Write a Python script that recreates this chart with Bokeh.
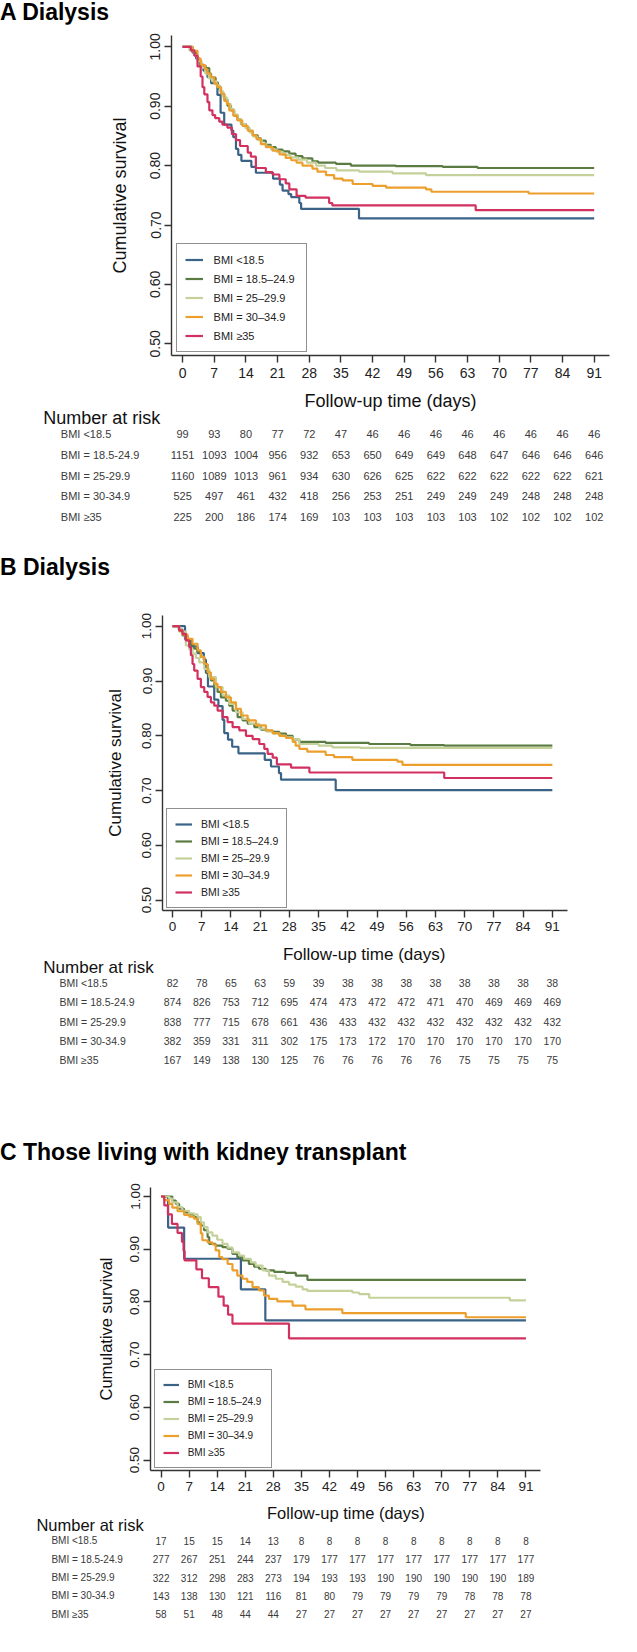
from bokeh.plotting import figure
from bokeh.models import (Range1d, FixedTicker, PrintfTickFormatter, Legend, LegendItem,
                          Label, ColumnDataSource, Div)
from bokeh.layouts import column
from bokeh.core.properties import value
from bokeh.embed import file_html
from bokeh.resources import INLINE

FONT = "Liberation Sans"
DAYS = [0, 7, 14, 21, 28, 35, 42, 49, 56, 63, 70, 77, 84, 91]
SURV_TICKS = [0.5, 0.6, 0.7, 0.8, 0.9, 1.0]
LEGEND_LABELS = ["BMI <18.5", "BMI = 18.5–24.9", "BMI = 25–29.9", "BMI = 30–34.9", "BMI ≥35"]
TABLE_LABELS = ["BMI <18.5", "BMI = 18.5-24.9", "BMI = 25-29.9", "BMI = 30-34.9", "BMI ≥35"]
COLORS = ["#3B6387", "#5A7B42", "#C5D19A", "#EC9F2C", "#D2315F"]
PANEL_TITLES = ["A Dialysis", "B Dialysis", "C Those living with kidney transplant"]
X_TITLE = "Follow-up time (days)"
Y_TITLE = "Cumulative survival"
RISK_TITLE = "Number at risk"

# ---------------- Panel A: Dialysis ----------------
A_T_LT185 = [0, 2.2, 3.0, 3.8, 4.6, 5.5, 6.3, 7.7, 8.4, 9.2, 10.8, 11.2, 11.8, 12.3, 13.0, 15.2, 16.2, 20.0, 21.5, 22.1, 23.4, 24.0, 25.8, 26.2, 39.0, 91]
A_S_LT185 = [1.0, .990, .980, .970, .960, .949, .939, .919, .889, .869, .859, .848, .828, .818, .808, .798, .788, .778, .768, .758, .752, .747, .737, .727, .711, .711]
A_T_185 = [0, 2.0, 2.8, 3.3, 4.0, 5.1, 5.9, 6.3, 7.3, 7.8, 8.5, 9.2, 9.9, 10.7, 11.4, 12.1, 12.9, 14.0, 14.7, 15.5, 16.6, 17.3, 18.4, 19.5, 20.6, 22.1, 23.6, 25.0, 26.5, 28.7, 30.0, 33.9, 37.2, 47.1, 57.5, 65.2, 91]
A_S_185 = [1.0, .993, .985, .977, .968, .964, .955, .948, .940, .930, .921, .912, .901, .893, .884, .878, .870, .864, .858, .851, .846, .842, .835, .831, .827, .824, .820, .816, .812, .807, .805, .803, .800, .799, .798, .796, .796]
A_T_25 = [0, 1.5, 2.5, 3.3, 4.2, 5.0, 5.8, 6.5, 7.5, 8.3, 9.0, 9.8, 10.6, 11.4, 12.2, 13.0, 13.9, 14.8, 15.6, 16.5, 17.5, 18.5, 19.6, 20.8, 22.2, 23.8, 25.5, 27.5, 29.5, 31.5, 34.0, 39.0, 46.4, 53.8, 91]
A_S_25 = [1.0, .994, .986, .976, .965, .955, .947, .942, .935, .925, .915, .904, .895, .886, .878, .870, .863, .856, .849, .843, .837, .832, .827, .823, .818, .814, .810, .805, .800, .796, .792, .790, .787, .784, .784]
A_T_30 = [0, 2.2, 3.3, 4.0, 5.0, 5.5, 6.2, 7.0, 7.7, 8.5, 9.2, 9.8, 10.3, 11.2, 12.1, 13.2, 14.4, 15.5, 16.3, 17.3, 18.4, 19.9, 21.4, 22.8, 24.0, 25.2, 26.5, 28.7, 29.8, 31.7, 33.5, 35.4, 37.6, 42.0, 45.0, 53.8, 55.0, 76.5, 91]
A_S_30 = [1.0, .993, .980, .969, .962, .955, .949, .938, .932, .921, .909, .904, .893, .884, .876, .867, .859, .851, .845, .836, .831, .825, .819, .813, .809, .805, .800, .795, .790, .784, .778, .775, .769, .766, .763, .760, .756, .753, .753]
A_T_35 = [0, 1.8, 2.6, 3.3, 4.0, 4.4, 4.8, 5.5, 5.9, 6.6, 7.2, 8.1, 8.8, 9.9, 10.9, 11.8, 12.7, 14.4, 15.1, 16.2, 18.4, 19.9, 21.4, 22.8, 23.6, 25.2, 27.2, 32.4, 33.1, 64.8, 91]
A_S_35 = [1.0, .994, .985, .967, .950, .932, .920, .907, .893, .885, .880, .874, .869, .864, .853, .843, .833, .822, .815, .796, .789, .785, .777, .770, .760, .749, .746, .737, .733, .725, .725]
A_RISK_LT185 = [99, 93, 80, 77, 72, 47, 46, 46, 46, 46, 46, 46, 46, 46]
A_RISK_185 = [1151, 1093, 1004, 956, 932, 653, 650, 649, 649, 648, 647, 646, 646, 646]
A_RISK_25 = [1160, 1089, 1013, 961, 934, 630, 626, 625, 622, 622, 622, 622, 622, 621]
A_RISK_30 = [525, 497, 461, 432, 418, 256, 253, 251, 249, 249, 249, 248, 248, 248]
A_RISK_35 = [225, 200, 186, 174, 169, 103, 103, 103, 103, 103, 102, 102, 102, 102]

# ---------------- Panel B: Dialysis ----------------
B_T_LT185 = [0, 3.0, 4.6, 6.0, 7.5, 8.0, 8.5, 10.0, 11.0, 12.0, 12.4, 13.3, 14.3, 15.8, 22.1, 23.6, 25.5, 26.0, 39.1, 91]
B_S_LT185 = [1.0, .976, .963, .951, .939, .915, .890, .866, .854, .829, .805, .793, .780, .768, .756, .744, .732, .720, .701, .701]
B_T_185 = [0, 1.5, 2.4, 3.6, 4.4, 5.2, 6.0, 6.8, 7.6, 8.4, 9.2, 10.0, 10.8, 11.6, 12.8, 13.6, 14.4, 15.6, 16.8, 18.0, 19.6, 21.2, 22.5, 24.0, 25.6, 27.2, 28.8, 30.4, 36.7, 47.1, 57.0, 65.1, 91]
B_S_185 = [1.0, .994, .983, .974, .965, .959, .953, .944, .930, .913, .901, .889, .880, .870, .864, .855, .846, .834, .828, .822, .816, .811, .809, .807, .804, .800, .793, .789, .787, .785, .783, .782, .782]
B_T_25 = [0, 1.6, 3.2, 4.0, 4.8, 5.6, 6.4, 7.6, 8.8, 10.4, 12.0, 13.6, 15.2, 16.8, 18.4, 20.8, 22.4, 24.0, 25.6, 27.2, 28.8, 30.4, 35.0, 38.3, 45.0, 91]
B_S_25 = [1.0, .990, .965, .958, .950, .942, .934, .922, .907, .889, .874, .858, .843, .831, .822, .813, .808, .804, .800, .797, .793, .785, .782, .779, .778, .778]
B_T_30 = [0, 1.6, 2.4, 3.6, 4.8, 6.0, 6.8, 7.6, 8.4, 9.2, 10.0, 10.8, 11.6, 12.8, 14.0, 15.2, 16.4, 18.0, 20.0, 22.4, 24.0, 25.6, 27.2, 28.8, 29.5, 30.4, 32.3, 36.7, 38.7, 43.1, 53.9, 55.1, 91]
B_S_30 = [1.0, .992, .985, .977, .968, .956, .944, .931, .916, .904, .895, .889, .880, .870, .861, .849, .837, .828, .819, .810, .805, .800, .796, .789, .782, .776, .771, .765, .761, .756, .753, .747, .747]
B_T_35 = [0, 1.6, 2.4, 3.2, 4.0, 4.4, 4.8, 5.2, 6.0, 6.8, 7.6, 8.4, 9.2, 10.0, 10.8, 12.0, 13.2, 14.4, 16.0, 17.6, 19.2, 20.8, 22.0, 22.8, 24.0, 25.0, 28.4, 32.8, 65.1, 91]
B_S_35 = [1.0, .992, .986, .974, .962, .947, .931, .919, .904, .889, .880, .871, .861, .855, .846, .834, .825, .816, .810, .800, .794, .785, .776, .767, .760, .748, .742, .733, .723, .723]
B_RISK_LT185 = [82, 78, 65, 63, 59, 39, 38, 38, 38, 38, 38, 38, 38, 38]
B_RISK_185 = [874, 826, 753, 712, 695, 474, 473, 472, 472, 471, 470, 469, 469, 469]
B_RISK_25 = [838, 777, 715, 678, 661, 436, 433, 432, 432, 432, 432, 432, 432, 432]
B_RISK_30 = [382, 359, 331, 311, 302, 175, 173, 172, 170, 170, 170, 170, 170, 170]
B_RISK_35 = [167, 149, 138, 130, 125, 76, 76, 76, 76, 76, 75, 75, 75, 75]

# ---------------- Panel C: kidney transplant ----------------
C_T_LT185 = [0, 1.75, 5.75, 19.9, 26.0, 91]
C_S_LT185 = [1.0, .941, .882, .824, .765, .765]
C_T_185 = [0, 2.8, 3.7, 4.5, 5.7, 7.0, 8.2, 9.1, 9.9, 10.7, 11.6, 12.0, 13.6, 15.3, 16.6, 17.8, 19.0, 20.3, 21.9, 23.2, 24.4, 26.1, 28.2, 31.0, 33.6, 36.5, 91]
C_S_185 = [1.0, .992, .986, .977, .970, .966, .961, .951, .945, .936, .923, .910, .907, .904, .901, .891, .885, .879, .872, .867, .863, .860, .857, .855, .850, .842, .842]
C_T_25 = [0, 2.0, 2.8, 4.1, 5.3, 7.0, 8.2, 9.1, 9.9, 10.7, 11.6, 12.8, 14.0, 15.3, 16.6, 17.8, 19.5, 20.7, 22.4, 23.6, 25.3, 26.9, 28.6, 30.3, 31.9, 33.6, 35.3, 36.5, 47.7, 49.4, 51.9, 87.0, 91]
C_S_25 = [1.0, .996, .989, .980, .973, .968, .966, .961, .951, .942, .932, .926, .918, .910, .903, .894, .888, .882, .875, .869, .860, .850, .844, .838, .833, .829, .824, .821, .818, .815, .808, .803, .803]
C_T_30 = [0, 0.8, 2.0, 2.8, 4.1, 5.75, 7.0, 8.2, 9.1, 9.9, 10.3, 11.6, 12.8, 13.6, 14.5, 15.3, 16.6, 17.8, 19.0, 20.3, 21.5, 22.8, 24.4, 25.7, 26.9, 29.0, 32.8, 36.0, 45.2, 76.0, 91]
C_S_30 = [1.0, .993, .986, .979, .972, .965, .962, .958, .948, .930, .917, .913, .909, .898, .885, .881, .872, .860, .850, .844, .838, .828, .822, .812, .806, .801, .793, .786, .779, .771, .771]
C_T_35 = [0, 0.8, 1.7, 2.7, 4.1, 5.2, 5.6, 5.85, 8.8, 10.2, 11.9, 14.3, 15.6, 16.7, 17.8, 31.9, 91]
C_S_35 = [1.0, .983, .966, .948, .931, .914, .897, .879, .862, .845, .828, .810, .793, .776, .759, .731, .731]
C_RISK_LT185 = [17, 15, 15, 14, 13, 8, 8, 8, 8, 8, 8, 8, 8, 8]
C_RISK_185 = [277, 267, 251, 244, 237, 179, 177, 177, 177, 177, 177, 177, 177, 177]
C_RISK_25 = [322, 312, 298, 283, 273, 194, 193, 193, 190, 190, 190, 190, 190, 189]
C_RISK_30 = [143, 138, 130, 121, 116, 81, 80, 79, 79, 79, 79, 78, 78, 78]
C_RISK_35 = [58, 51, 48, 44, 44, 27, 27, 27, 27, 27, 27, 27, 27, 27]

# ---------------- layout (pixel positions on the page) ----------------
LAYOUTS = [
    dict(div_h=24, div_lh=24, title_fs=23,
         km_top=32, km_h=361, mb_l=171, mb_r=12, mb_t=11, mb_b=30,
         x0=190.1, k=4.523, y1=54.3, ypu=594.0,
         tick_fs="14px", ytick_so=4, xtick_so=5, ylab_fs="18px", ylab_so=18,
         leg=(4.6, 3), leg_fs="11px", leg_lh=15, leg_sp=4, leg_pad=8, leg_gw=18, leg_so=11, leg_lw=84,
         tab_top=393, tab_h=162, xlab=(398, 408), xlab_fs="18px", nar=(50.8, 425), nar_fs="18px",
         row0=441.7, rdy=20.65, rowlab_x=68.3, row_fs="11px", num_fs="11px"),
    dict(div_h=40, div_lh=40, title_fs=23,
         km_top=595, km_h=351, mb_l=162, mb_r=54, mb_t=28, mb_b=28,
         x0=180.0, k=4.174, y1=633.7, ypu=548.0,
         tick_fs="13.5px", ytick_so=4, xtick_so=4, ylab_fs="17px", ylab_so=15,
         leg=(3.9, 2.3), leg_fs="10.5px", leg_lh=14, leg_sp=3, leg_pad=8, leg_gw=17, leg_so=9, leg_lw=77,
         tab_top=946, tab_h=194, xlab=(371.7, 961.7), xlab_fs="17px", nar=(50.8, 975), nar_fs="17px",
         row0=990.7, rdy=19.15, rowlab_x=67.0, row_fs="10.5px", num_fs="10.5px"),
    dict(div_h=40, div_lh=40, title_fs=23,
         km_top=1180, km_h=325, mb_l=150, mb_r=81, mb_t=15, mb_b=27,
         x0=168.6, k=4.009, y1=1204.0, ypu=527.4,
         tick_fs="13.5px", ytick_so=4, xtick_so=4, ylab_fs="16.5px", ylab_so=13,
         leg=(3.7, 2), leg_fs="10px", leg_lh=13, leg_sp=4, leg_pad=8, leg_gw=16, leg_so=9, leg_lw=75,
         tab_top=1505, tab_h=137, xlab=(353.4, 1520), xlab_fs="16.5px", nar=(43.9, 1532.7), nar_fs="16.5px",
         row0=1548.3, rdy=18.35, rowlab_x=58.9, row_fs="10px", num_fs="10px"),
]

PANELS = [
    (PANEL_TITLES[0],
     [A_T_LT185, A_T_185, A_T_25, A_T_30, A_T_35],
     [A_S_LT185, A_S_185, A_S_25, A_S_30, A_S_35],
     [A_RISK_LT185, A_RISK_185, A_RISK_25, A_RISK_30, A_RISK_35]),
    (PANEL_TITLES[1],
     [B_T_LT185, B_T_185, B_T_25, B_T_30, B_T_35],
     [B_S_LT185, B_S_185, B_S_25, B_S_30, B_S_35],
     [B_RISK_LT185, B_RISK_185, B_RISK_25, B_RISK_30, B_RISK_35]),
    (PANEL_TITLES[2],
     [C_T_LT185, C_T_185, C_T_25, C_T_30, C_T_35],
     [C_S_LT185, C_S_185, C_S_25, C_S_30, C_S_35],
     [C_RISK_LT185, C_RISK_185, C_RISK_25, C_RISK_30, C_RISK_35]),
]

PAGE_W = 621
LEFT_ABS = 8
RIGHT_ABS = LEFT_ABS + PAGE_W


def no_align(fig):
    if "frame_align" in fig.properties():
        fig.frame_align = False


def build_panel(title, times, survs, risks, L):
    out = []
    out.append(Div(
        text=('<div style="font-family:\'%s\';font-size:%dpx;font-weight:bold;color:#000;'
              'line-height:%dpx;white-space:nowrap;">%s</div>') % (FONT, L["title_fs"], L["div_lh"], title),
        width=PAGE_W, height=L["div_h"], margin=(0, 0, 0, 0)))

    fl = LEFT_ABS + L["mb_l"]
    fr = RIGHT_ABS - L["mb_r"]
    ft = L["km_top"] + L["mb_t"]
    fb = L["km_top"] + L["km_h"] - L["mb_b"]
    xr = Range1d((fl - L["x0"]) / L["k"], (fr - L["x0"]) / L["k"])
    yr = Range1d(1 - (fb - L["y1"]) / L["ypu"], 1 + (L["y1"] - ft) / L["ypu"])
    p = figure(width=PAGE_W, height=L["km_h"], x_range=xr, y_range=yr, title=None,
               toolbar_location=None, output_backend="svg",
               min_border_left=L["mb_l"], min_border_right=L["mb_r"],
               min_border_top=L["mb_t"], min_border_bottom=L["mb_b"])
    no_align(p)
    p.outline_line_color = None
    p.grid.visible = False
    p.background_fill_color = "white"
    p.border_fill_color = "white"

    p.xaxis.ticker = FixedTicker(ticks=DAYS)
    p.yaxis.ticker = FixedTicker(ticks=SURV_TICKS)
    p.yaxis.formatter = PrintfTickFormatter(format="%.2f")
    p.yaxis.major_label_orientation = "vertical"
    for ax in (p.xaxis[0], p.yaxis[0]):
        ax.minor_tick_line_color = None
        ax.major_tick_in = 0
        ax.major_tick_out = 7
        ax.axis_line_color = "#333333"
        ax.axis_line_width = 1.4
        ax.major_tick_line_color = "#333333"
        ax.major_tick_line_width = 1.4
        ax.major_label_text_font = FONT
        ax.major_label_text_font_size = L["tick_fs"]
        ax.major_label_text_color = "#222222"
    p.xaxis.major_label_standoff = L["xtick_so"]
    p.yaxis.major_label_standoff = L["ytick_so"]
    p.yaxis.axis_label = Y_TITLE
    p.yaxis.axis_label_text_font = FONT
    p.yaxis.axis_label_text_font_style = "normal"
    p.yaxis.axis_label_text_font_size = L["ylab_fs"]
    p.yaxis.axis_label_text_color = "#111111"
    p.yaxis.axis_label_standoff = L["ylab_so"]

    items = []
    for t, s, c, lab in zip(times, survs, COLORS, LEGEND_LABELS):
        r = p.step(x=t, y=s, mode="after", line_color=c, line_width=2.2)
        items.append(LegendItem(label=lab, renderers=[r]))
    leg = Legend(items=items, location=L["leg"], margin=0, padding=L["leg_pad"],
                 spacing=L["leg_sp"], label_height=L["leg_lh"], glyph_height=L["leg_lh"],
                 glyph_width=L["leg_gw"], label_standoff=L["leg_so"], label_width=L["leg_lw"],
                 label_text_font=FONT, label_text_font_size=L["leg_fs"],
                 label_text_color="#222222", border_line_color="#222222",
                 border_line_width=1.8, background_fill_color="white", background_fill_alpha=1.0)
    p.add_layout(leg, "center")
    out.append(p)

    # number-at-risk table, sharing the same day-to-pixel mapping
    r0 = L["row0"] - L["tab_top"]
    th = L["tab_h"]
    tx = Range1d((LEFT_ABS - L["x0"]) / L["k"], (RIGHT_ABS - L["x0"]) / L["k"])
    ty = Range1d(start=(th - r0) / L["rdy"], end=-r0 / L["rdy"])
    tp = figure(width=PAGE_W, height=th, x_range=tx, y_range=ty, title=None,
                toolbar_location=None, output_backend="svg",
                x_axis_location=None, y_axis_location=None,
                min_border_left=0, min_border_right=0, min_border_top=0, min_border_bottom=0)
    no_align(tp)
    tp.outline_line_color = None
    tp.grid.visible = False

    xs, ys, txt = [], [], []
    for i, row in enumerate(risks):
        for d, n in zip(DAYS, row):
            xs.append(d)
            ys.append(i)
            txt.append(str(n))
    src = ColumnDataSource(dict(x=xs, y=ys, t=txt))
    tp.text(x="x", y="y", text="t", source=src, text_align="center", text_baseline="middle",
            text_font=value(FONT), text_font_size=L["num_fs"], text_color="#3a3a3a")

    tp.add_layout(Label(x=L["xlab"][0] - LEFT_ABS, y=th - (L["xlab"][1] - L["tab_top"]),
                        x_units="screen", y_units="screen", text=X_TITLE,
                        text_align="center", text_baseline="middle",
                        text_font=FONT, text_font_size=L["xlab_fs"], text_color="#111111"))
    tp.add_layout(Label(x=L["nar"][0] - LEFT_ABS, y=th - (L["nar"][1] - L["tab_top"]),
                        x_units="screen", y_units="screen", text=RISK_TITLE,
                        text_align="left", text_baseline="middle",
                        text_font=FONT, text_font_size=L["nar_fs"], text_color="#111111"))
    for i, lab in enumerate(TABLE_LABELS):
        tp.add_layout(Label(x=L["rowlab_x"] - LEFT_ABS, y=i, x_units="screen", y_units="data",
                            text=lab, text_align="left", text_baseline="middle",
                            text_font=FONT, text_font_size=L["row_fs"], text_color="#3a3a3a"))
    out.append(tp)
    return out


children = []
for (title, times, survs, risks), L in zip(PANELS, LAYOUTS):
    children.extend(build_panel(title, times, survs, risks, L))

page = column(*children)
page.spacing = 0
page.margin = (0, 0, 0, 0)

open("out.html", "w").write(file_html(page, INLINE))
